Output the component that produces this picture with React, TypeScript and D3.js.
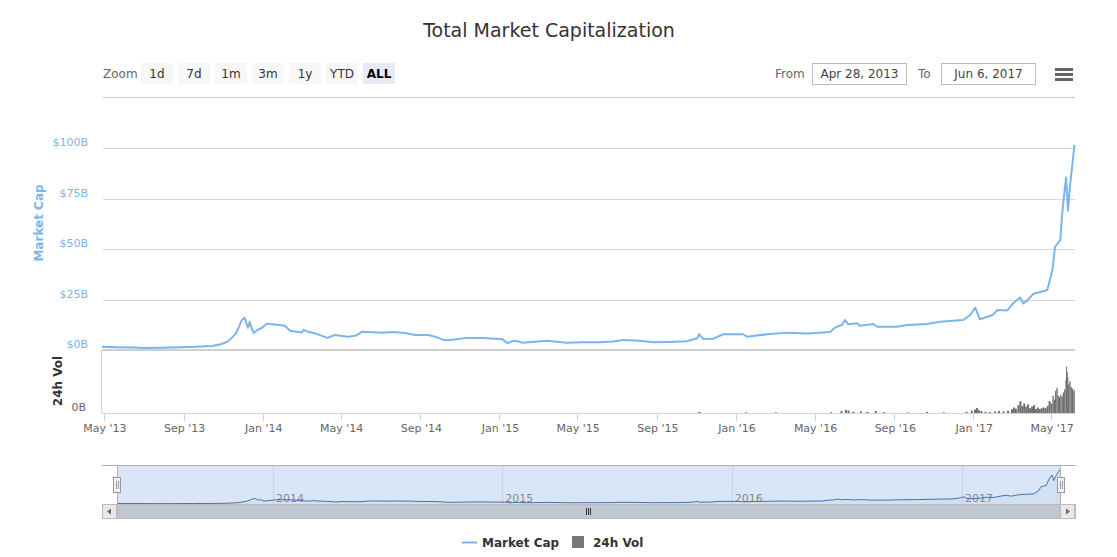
import React from "react";
import * as d3 from "d3";

const capDates: string[] = [
  "2013-04-28","2013-05-20","2013-06-15","2013-07-03","2013-07-25","2013-08-26","2013-09-20","2013-10-15","2013-10-30","2013-11-08","2013-11-14","2013-11-20","2013-11-24","2013-11-30","2013-12-04","2013-12-07","2013-12-09","2013-12-12","2013-12-15","2013-12-18","2013-12-24","2013-12-31","2014-01-07","2014-01-20","2014-02-04","2014-02-12","2014-02-20","2014-03-02","2014-03-05","2014-03-12","2014-03-25","2014-04-11","2014-04-22","2014-05-12","2014-05-25","2014-06-03","2014-06-20","2014-07-04","2014-07-20","2014-08-08","2014-08-24","2014-09-13","2014-09-25","2014-10-06","2014-10-17","2014-11-12","2014-12-07","2014-12-25","2015-01-05","2015-01-14","2015-01-20","2015-01-28","2015-02-06","2015-02-20","2015-03-15","2015-04-15","2015-05-10","2015-06-05","2015-06-25","2015-07-11","2015-08-06","2015-08-26","2015-09-20","2015-10-17","2015-11-02","2015-11-05","2015-11-11","2015-11-27","2015-12-12","2016-01-12","2016-01-18","2016-02-18","2016-03-21","2016-04-20","2016-05-25","2016-06-02","2016-06-12","2016-06-17","2016-06-22","2016-07-06","2016-07-10","2016-07-30","2016-08-06","2016-09-05","2016-09-21","2016-10-22","2016-11-11","2016-12-16","2016-12-27","2017-01-04","2017-01-11","2017-01-31","2017-02-07","2017-02-22","2017-03-03","2017-03-14","2017-03-19","2017-03-26","2017-04-03","2017-04-25","2017-05-03","2017-05-07","2017-05-15","2017-05-19","2017-05-24","2017-05-27","2017-05-30","2017-06-06"
];
const capValues: number[] = [
  1.6,1.4,1.2,1.0,1.1,1.4,1.6,2.0,3.0,4.2,6.0,8.0,10.5,15.0,16.0,13.0,11.0,14.0,10.5,8.4,10.0,11.0,13.0,12.6,12.0,9.5,9.2,8.6,10.0,9.0,8.0,6.0,7.4,6.6,7.2,9.0,8.8,8.6,8.9,8.4,7.4,7.4,6.5,5.0,5.0,6.0,5.9,5.6,5.4,3.4,4.3,4.4,3.6,4.0,4.6,3.6,3.8,3.8,4.2,5.0,4.6,3.8,4.0,4.3,5.8,7.8,5.4,5.6,7.8,7.8,6.6,7.8,8.6,8.2,8.9,11.2,12.4,14.8,12.7,13.2,12.0,12.9,11.5,11.5,12.4,12.9,14.0,14.8,17.3,21.0,15.2,17.3,19.8,19.5,23.0,26.0,23.0,24.8,27.7,29.7,39.6,51.0,54.5,71.0,85.5,69.0,81.0,101.5
];

const volDates: string[] = [
  "2015-11-04","2016-01-15","2016-03-01","2016-05-25","2016-06-10","2016-06-17","2016-06-21","2016-06-28","2016-07-10","2016-07-20","2016-08-02","2016-08-15","2016-09-20","2016-10-20","2016-11-15","2016-12-20","2016-12-28","2017-01-02","2017-01-05","2017-01-08","2017-01-12","2017-01-18","2017-01-25","2017-02-02","2017-02-08","2017-02-15","2017-02-22","2017-02-28","2017-03-03","2017-03-06","2017-03-10","2017-03-13","2017-03-16","2017-03-19","2017-03-22","2017-03-25","2017-03-28","2017-03-31","2017-04-03","2017-04-06","2017-04-09","2017-04-12","2017-04-15","2017-04-18","2017-04-21","2017-04-24","2017-04-27","2017-04-30","2017-05-03","2017-05-05","2017-05-07","2017-05-09","2017-05-11","2017-05-13","2017-05-15","2017-05-17","2017-05-19","2017-05-21","2017-05-23","2017-05-24","2017-05-25","2017-05-26","2017-05-27","2017-05-29","2017-05-31","2017-06-02","2017-06-04","2017-06-06"
];
const volValues: number[] = [
  0.15,0.08,0.08,0.1,0.25,0.4,0.3,0.15,0.2,0.15,0.25,0.1,0.08,0.12,0.08,0.15,0.3,0.45,0.65,0.35,0.25,0.15,0.12,0.18,0.25,0.2,0.3,0.45,0.7,0.55,1.0,1.5,0.9,1.2,0.8,1.1,0.6,0.8,1.0,0.5,0.7,0.5,0.6,0.7,0.6,0.9,1.5,1.2,2.2,1.7,2.8,3.2,2.2,2.0,2.3,2.1,2.6,3.0,4.2,5.9,5.2,4.5,3.6,4.0,3.3,3.1,2.8,3.0
];

const capTicks: number[] = [0, 25, 50, 75, 100];
const capTickLabels: string[] = ["$0B", "$25B", "$50B", "$75B", "$100B"];
const zoomButtons: string[] = ["1d", "7d", "1m", "3m", "1y", "YTD", "ALL"];
const fromLabel = "Apr 28, 2013";
const toLabel = "Jun 6, 2017";

const FONT = "'DejaVu Sans', Verdana, sans-serif";

const parse = (s: string) => new Date(s + "T00:00:00Z");

export default function App() {
  const start = parse("2013-04-28");
  const end = parse("2017-06-06");
  const x = d3.scaleUtc().domain([start, end]).range([102, 1074.5]);
  const yCap = d3.scaleLinear().domain([0, 100]).range([350, 148]);
  const yVol = d3.scaleLinear().domain([0, 8]).range([413, 350]);
  const xNav = d3.scaleUtc().domain([start, end]).range([117, 1060]);
  const yNav = d3.scaleLinear().domain([0, 101.5]).range([504, 469.5]);

  const capData = capDates.map((d, i) => ({ d: parse(d), v: capValues[i] }));
  const volData = volDates.map((d, i) => ({ d: parse(d), v: volValues[i] }));

  const capLine = d3.line<{ d: Date; v: number }>().x((p) => x(p.d)).y((p) => yCap(p.v))(capData) || "";
  const navLine = d3.line<{ d: Date; v: number }>().x((p) => xNav(p.d)).y((p) => yNav(p.v))(capData) || "";
  const navArea = d3.area<{ d: Date; v: number }>().x((p) => xNav(p.d)).y0(504).y1((p) => yNav(p.v))(capData) || "";

  const xTicks = d3.utcMonth.every(4)!.range(start, end);
  const fmt = d3.utcFormat("%b '%y");
  const navTicks = d3.utcYear.range(start, end);

  return (
    <div style={{ position: "fixed", left: 0, top: 0 }}>
      <svg width={1117} height={557} style={{ display: "block", fontFamily: FONT }}>
        <rect width={1117} height={557} fill="#fff" />
        <text x={549} y={37} textAnchor="middle" fontSize={19} fill="#333">Total Market Capitalization</text>

        {/* range selector */}
        <text x={103} y={77.5} fontSize={12} fill="#666">Zoom</text>
        {zoomButtons.map((b, i) => {
          const bx = 141 + i * 37;
          const sel = b === "ALL";
          return (
            <g key={b}>
              <rect x={bx} y={63} width={32} height={21} fill={sel ? "#e6ebf5" : "#f7f7f7"} />
              <text x={bx + 16} y={77.5} textAnchor="middle" fontSize={12} fill={sel ? "#000" : "#333"} fontWeight={sel ? "bold" : "normal"}>{b}</text>
            </g>
          );
        })}
        <text x={775} y={77.5} fontSize={12} fill="#666">From</text>
        <rect x={812.5} y={63.5} width={94} height={21} fill="#fff" stroke="#bbb" />
        <text x={859.5} y={78} textAnchor="middle" fontSize={12} fill="#444">{fromLabel}</text>
        <text x={918} y={77.5} fontSize={12} fill="#666">To</text>
        <rect x={941.5} y={63.5} width={94} height={21} fill="#fff" stroke="#bbb" />
        <text x={988.5} y={78} textAnchor="middle" fontSize={12} fill="#444">{toLabel}</text>
        {[69.5, 74.5, 79.5].map((yy) => (
          <line key={yy} x1={1055} x2={1073} y1={yy} y2={yy} stroke="#666" strokeWidth={3} />
        ))}
        <line x1={103} x2={1075} y1={97.5} y2={97.5} stroke="#ccc" />

        {/* gridlines */}
        {capTicks.map((t, i) => (
          <g key={t}>
            {t > 0 && <line x1={103} x2={1075} y1={Math.round(yCap(t)) + 0.5} y2={Math.round(yCap(t)) + 0.5} stroke="#d8d8d8" />}
            <text x={88} y={yCap(t) - 2} textAnchor="end" fontSize={11} fill="#7cb5ec">{capTickLabels[i]}</text>
          </g>
        ))}
        <line x1={102} x2={1075} y1={350} y2={350} stroke="#d0d0d0" strokeWidth={2} />
        <text transform="translate(43,223) rotate(-90)" textAnchor="middle" fontSize={12} fontWeight="bold" fill="#7cb5ec">Market Cap</text>
        <text transform="translate(62,381) rotate(-90)" textAnchor="middle" fontSize={12} fontWeight="bold" fill="#333">24h Vol</text>
        <text x={86} y={411} textAnchor="end" fontSize={11} fill="#666">0B</text>

        {/* volume */}
        <clipPath id="volClip"><rect x={102} y={350} width={973} height={63} /></clipPath>
        <g clipPath="url(#volClip)">
          {volData.map((p, i) => {
            const x0 = x(p.d);
            const x1 = i < volData.length - 1 ? x(volData[i + 1].d) : x0 + 1.3;
            const w = Math.max(1, Math.min(x1 - x0, 2));
            return <rect key={i} x={x0} y={yVol(p.v)} width={w} height={413 - yVol(p.v)} fill="#6e6e6e" />;
          })}
        </g>
        <line x1={101.5} x2={101.5} y1={350} y2={413} stroke="#ccd6eb" />
        <line x1={102} x2={1075} y1={413.5} y2={413.5} stroke="#ccd6eb" />
        {xTicks.map((t) => (
          <g key={t.toISOString()}>
            <line x1={Math.round(x(t)) + 0.5} x2={Math.round(x(t)) + 0.5} y1={413} y2={421} stroke="#ccd6eb" />
            <text x={x(t) + 1} y={432} textAnchor="middle" fontSize={11} fill="#666">{fmt(t)}</text>
          </g>
        ))}

        {/* market cap line */}
        <path d={capLine} fill="none" stroke="#7cb5ec" strokeWidth={2} strokeLinejoin="round" />

        {/* navigator */}
        <rect x={117} y={465} width={943} height={39.5} fill="#dae6f7" />
        {navTicks.map((t) => (
          <g key={t.toISOString()}>
            <line x1={Math.round(xNav(t)) + 0.5} x2={Math.round(xNav(t)) + 0.5} y1={465} y2={504} stroke="#c8d4e6" />
            <text x={xNav(t) + 3} y={502} fontSize={11} fill="#888">{t.getUTCFullYear()}</text>
          </g>
        ))}
        <path d={navArea} fill="rgba(69,114,167,0.05)" />
        <path d={navLine} fill="none" stroke="#4572a7" strokeWidth={1} />
        <path d="M102,465.5 H1075.5 M117.5,465 V505 M1060.5,465 V505" stroke="#b2b1b6" fill="none" />
        {/* handles */}
        <rect x={113.5} y={477.5} width={7} height={15} fill="#f2f2f2" stroke="#999" />
        <path d="M116.5,481 V489 M118.5,481 V489" stroke="#999" />
        <rect x={1057.5} y={477.5} width={7} height={15} fill="#f2f2f2" stroke="#999" />
        <path d="M1060.5,481 V489 M1062.5,481 V489" stroke="#999" />
        {/* scrollbar */}
        <rect x={102.5} y={504.5} width={973} height={14} fill="#eeeeee" stroke="#bbb" />
        <rect x={117} y={504.5} width={943} height={14} fill="#bfc8d1" stroke="#bbb" />
        <path d="M586.5,508 V515 M588.5,508 V515 M590.5,508 V515" stroke="#333" />
        <rect x={102.5} y={504.5} width={14} height={14} fill="#ebe7e8" stroke="#bbb" />
        <path d="M111,508.5 L107,511.5 L111,514.5 Z" fill="#666" />
        <rect x={1060.5} y={504.5} width={14} height={14} fill="#ebe7e8" stroke="#bbb" />
        <path d="M1066,508.5 L1070,511.5 L1066,514.5 Z" fill="#666" />

        {/* legend */}
        <line x1={462} x2={477} y1={542.5} y2={542.5} stroke="#7cb5ec" strokeWidth={2} />
        <text x={482} y={547} fontSize={12} fontWeight="bold" fill="#333">Market Cap</text>
        <rect x={572} y={536} width={12} height={12} fill="#777" />
        <text x={593} y={547} fontSize={12} fontWeight="bold" fill="#333">24h Vol</text>
      </svg>
    </div>
  );
}
